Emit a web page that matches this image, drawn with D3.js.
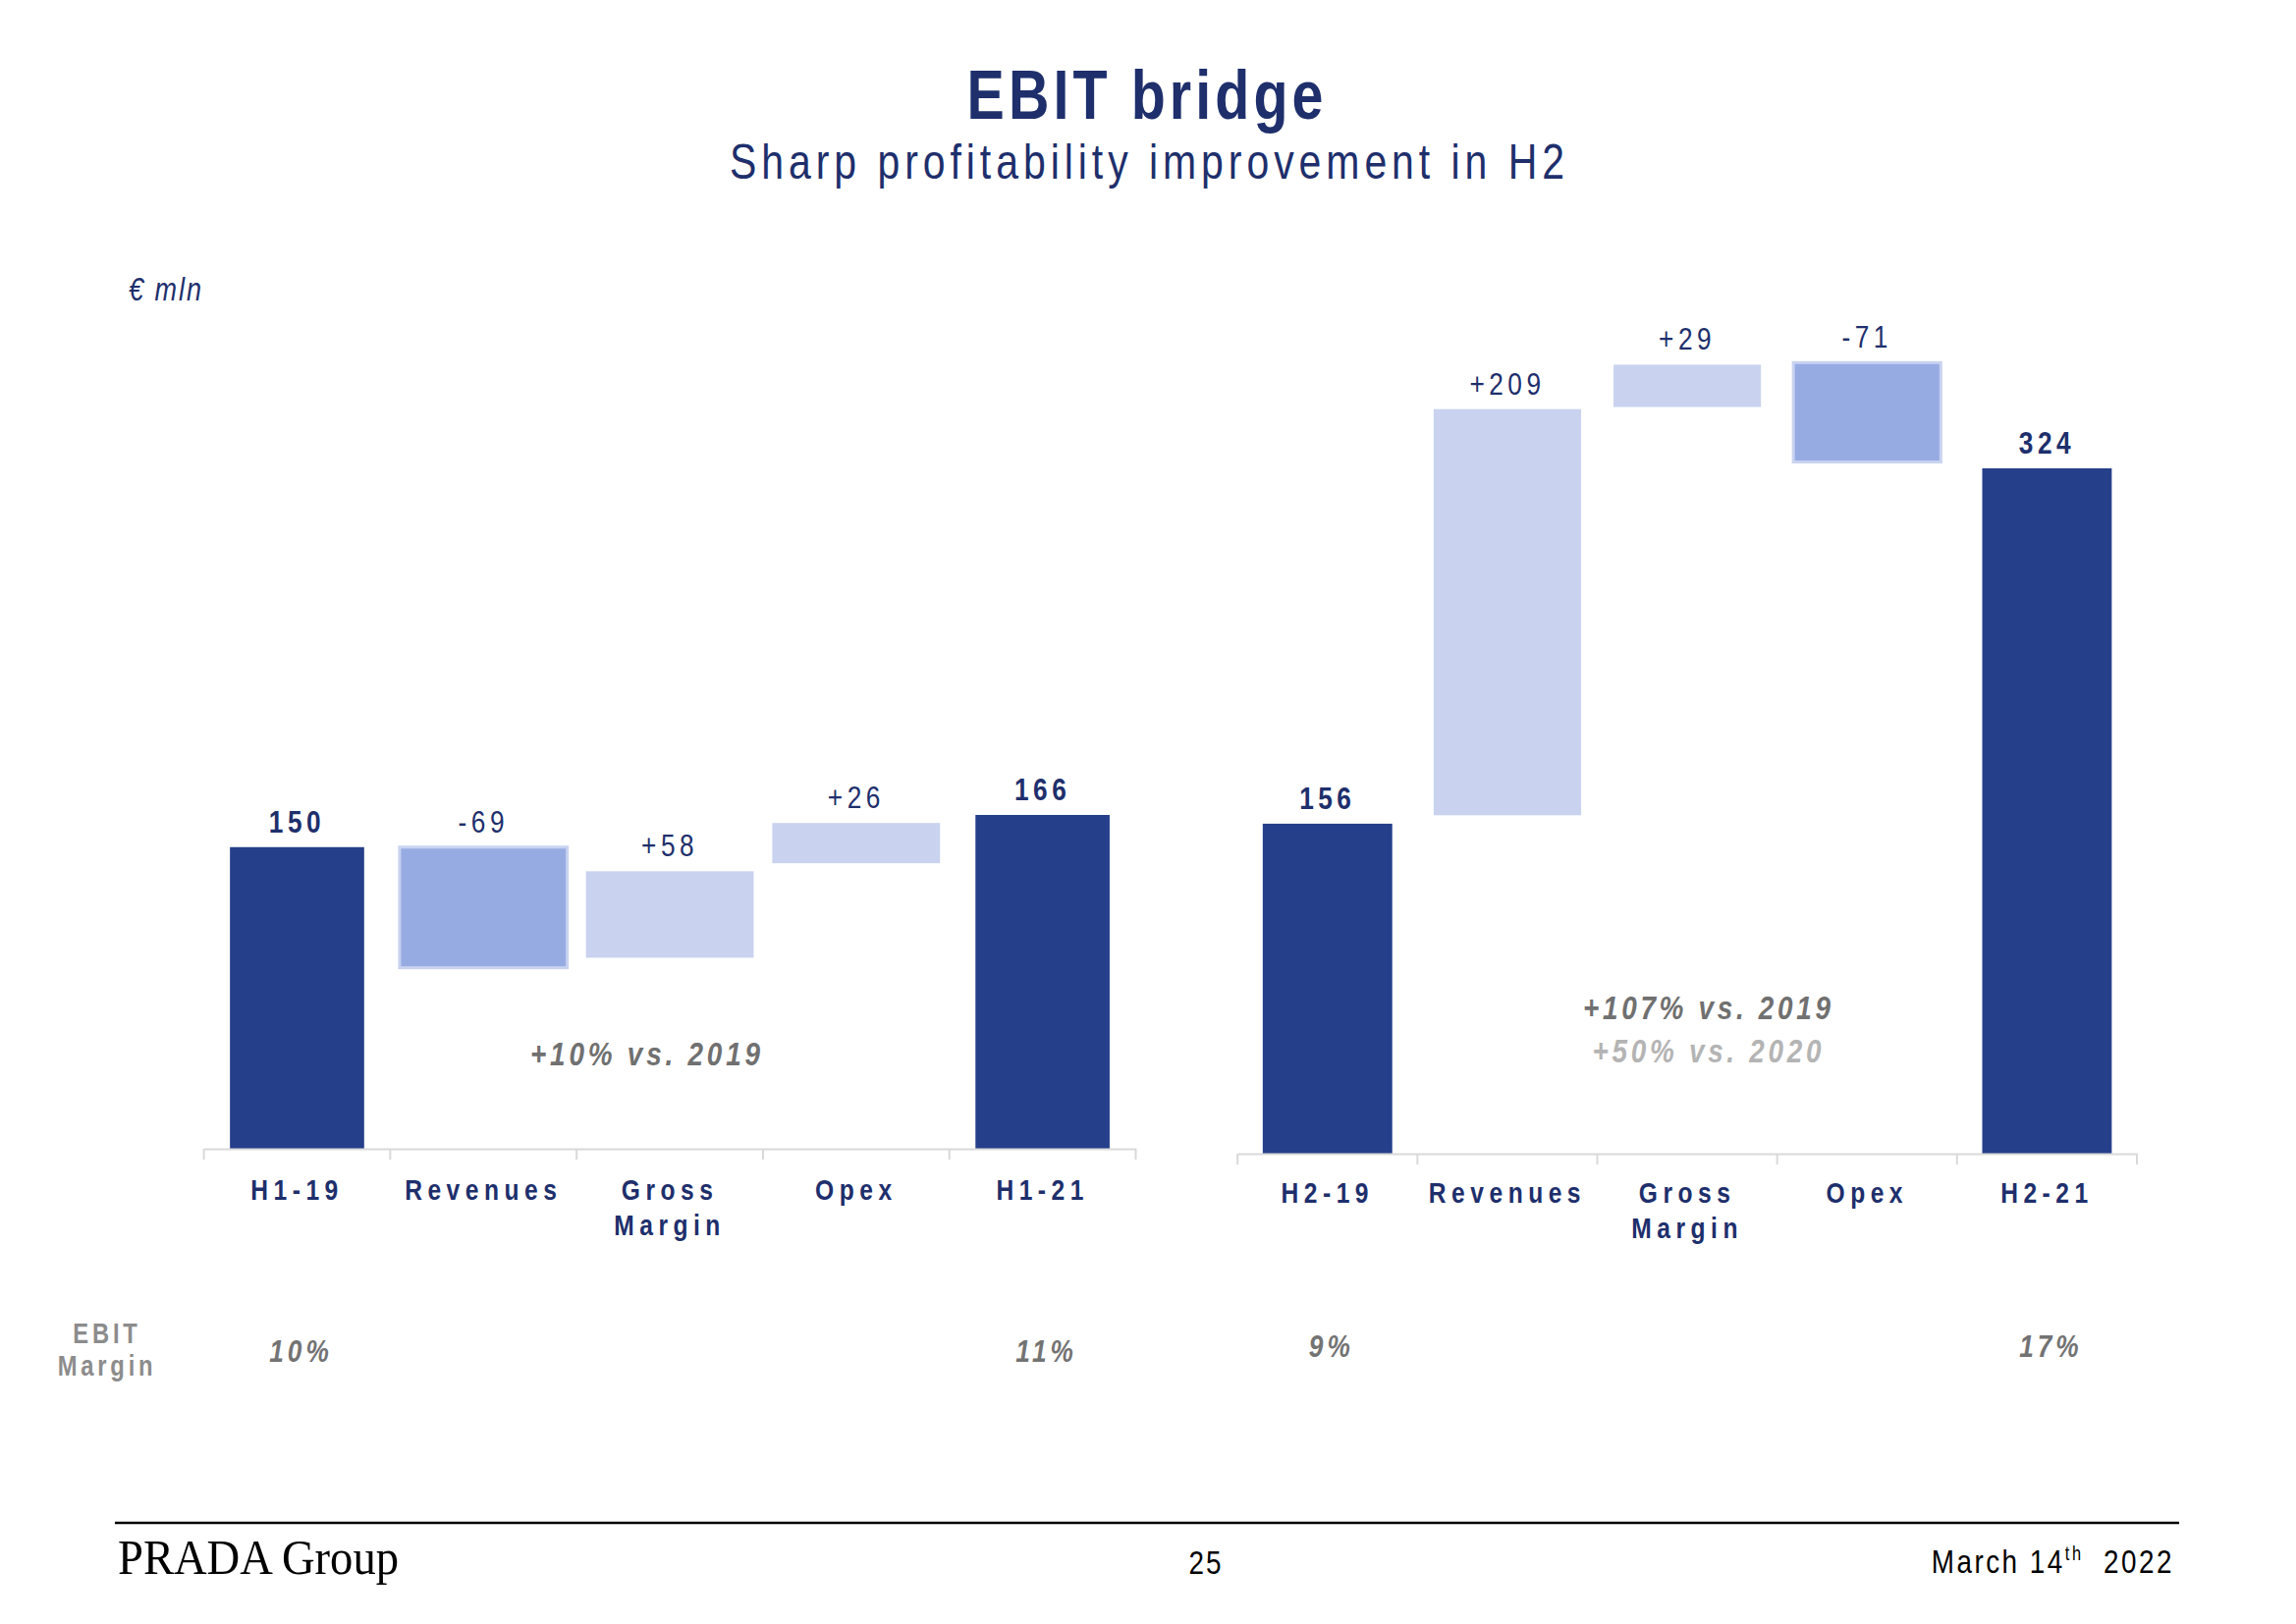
<!DOCTYPE html>
<html><head><meta charset="utf-8">
<script src="https://cdn.jsdelivr.net/npm/d3@7"></script>
<style>html,body{margin:0;padding:0;background:#fff;} svg{display:block;}</style>
</head><body>
<svg id="chart" width="2338" height="1654"></svg>
<script>
// ---------------- DATA ----------------
const leftCategories  = ["H1-19", "Revenues", "Gross Margin", "Opex", "H1-21"];
const leftKinds       = ["total", "neg", "pos", "pos", "total"];
const leftLabels      = ["150", "-69", "+58", "+26", "166"];
const leftBarLow      = [0, 90, 95, 142, 0];
const leftBarHigh     = [150, 150, 138, 162, 166];
const leftMargins     = ["10%", "", "", "", "11%"];

const rightCategories = ["H2-19", "Revenues", "Gross Margin", "Opex", "H2-21"];
const rightKinds      = ["total", "pos", "pos", "neg", "total"];
const rightLabels     = ["156", "+209", "+29", "-71", "324"];
const rightBarLow     = [0, 160, 353, 327, 0];
const rightBarHigh    = [156, 352, 373, 374, 324];
const rightMargins    = ["9%", "", "", "", "17%"];

const titleText    = "EBIT bridge";
const subtitleText = "Sharp profitability improvement in H2";
const unitText     = "€ mln";
const marginTitle  = ["EBIT", "Margin"];
const leftNotes    = ["+10% vs. 2019"];
const rightNotes   = ["+107% vs. 2019", "+50% vs. 2020"];

// ---------------- STYLE ----------------
const C = {
  bar: "#253F8A", text: "#1E2F6C", pos: "#C9D3F0", neg: "#97ABE3",
  negStroke: "#C9D3F0", axis: "#D9D9D9", grey: "#8C8C8C", pct: "#737373",
  note1: "#707070", note2: "#B4B4B4"
};

const cv = document.createElement("canvas").getContext("2d");
function mw(f) { cv.font = f; return cv.measureText("Revenues Gross Margin 0123456789").width; }
const narrowInstalled = Math.abs(mw("30px 'Liberation Sans Narrow', monospace") - mw("30px monospace")) > 1;
const NARROW = narrowInstalled && mw("30px 'Liberation Sans Narrow', monospace") < 0.9 * mw("30px 'Liberation Sans', monospace");
const FAM = NARROW ? "'Liberation Sans Narrow'" : "'Liberation Sans', Arial, sans-serif";
const SX = NARROW ? 1 : 0.82;

const svg = d3.select("#chart");
svg.append("rect").attr("width", 2338).attr("height", 1654).attr("fill", "#fff");

function label(parent, x, y, str, o) {
  const t = parent.append("text")
    .attr("transform", `translate(${x},${y}) scale(${SX},1)`)
    .attr("text-anchor", o.anchor || "middle")
    .style("font-family", FAM)
    .style("font-size", o.size + "px")
    .style("font-weight", o.bold ? "bold" : "normal")
    .style("font-style", o.italic ? "italic" : "normal")
    .style("letter-spacing", ((o.ls || 0) / SX) + "px")
    .attr("fill", o.color);
  if (Array.isArray(str)) {
    str.forEach((s, k) => t.append("tspan").attr("x", 0).attr("dy", k === 0 ? 0 : o.lineGap).text(s));
  } else {
    t.text(str);
  }
  if (o.width) t.attr("textLength", o.width / SX).attr("lengthAdjust", "spacing");
  return t;
}

// ---------------- TITLES ----------------
label(svg, 1166, 121, titleText, { size: 70, bold: true, color: C.text, width: 363 });
label(svg, 1168, 182, subtitleText, { size: 50, color: C.text, width: 850 });
label(svg, 131, 306, unitText, { size: 33, italic: true, color: C.text, ls: 2, anchor: "start" });

// ---------------- PANELS ----------------
function drawPanel(cfg) {
  const x = d3.scaleBand().domain(cfg.categories).range(cfg.xRange).padding(0);
  const y = d3.scaleLinear().domain([0, cfg.yMax]).range(cfg.yRange);
  const rows = cfg.categories.map((c, i) => ({
    cat: c, kind: cfg.kinds[i], label: cfg.labels[i],
    lo: cfg.low[i], hi: cfg.high[i], margin: cfg.margins[i]
  }));
  const g = svg.append("g");

  const bw = d => x.bandwidth() * (d.kind === "total" ? cfg.totalRatio : cfg.deltaRatio);
  g.selectAll("rect.bar").data(rows).join("rect")
    .attr("class", "bar")
    .attr("x", d => x(d.cat) + (x.bandwidth() - bw(d)) / 2)
    .attr("width", bw)
    .attr("y", d => y(d.hi))
    .attr("height", d => y(d.lo) - y(d.hi))
    .attr("fill", d => d.kind === "total" ? C.bar : d.kind === "pos" ? C.pos : C.neg)
    .attr("stroke", d => d.kind === "neg" ? C.negStroke : "none")
    .attr("stroke-width", d => d.kind === "neg" ? 3 : 0);

  rows.forEach(d => {
    label(g, x(d.cat) + x.bandwidth() / 2, y(d.hi) - 15, d.label,
      { size: 32, bold: d.kind === "total", color: C.text, ls: 4.5 });
  });

  // axis
  const ag = g.append("g").attr("transform", `translate(0,${y(0)})`)
    .call(d3.axisBottom(x).tickSize(0).tickSizeOuter(0).tickPadding(0));
  ag.select(".domain").attr("stroke", C.axis).attr("stroke-width", 2);
  const edges = d3.range(cfg.categories.length + 1).map(i => x.range()[0] + i * x.step());
  ag.selectAll("line.edge").data(edges).join("line").attr("class", "edge")
    .attr("x1", d => d).attr("x2", d => d).attr("y1", 0).attr("y2", 11)
    .attr("stroke", C.axis).attr("stroke-width", 2);
  ag.selectAll(".tick text").each(function (d) {
    const t = d3.select(this);
    t.text(null).attr("y", null).attr("dy", null)
      .attr("transform", `translate(0,${cfg.labelDy}) scale(${SX},1)`)
      .attr("text-anchor", "middle")
      .attr("fill", C.text)
      .style("font-family", FAM).style("font-size", "30px").style("font-weight", "bold")
      .style("letter-spacing", (5.5 / SX) + "px");
    d.split(" ").forEach((w, k) => {
      t.append("tspan").attr("x", 0).attr("dy", k === 0 ? 0 : 36.5).text(w);
    });
  });

  // EBIT margins
  rows.filter(d => d.margin).forEach(d => {
    label(g, x(d.cat) + x.bandwidth() / 2 + 4, cfg.marginY, d.margin,
      { size: 32, bold: true, italic: true, color: C.pct, ls: 4 });
  });
  return { x, y };
}

drawPanel({
  categories: leftCategories, kinds: leftKinds, labels: leftLabels,
  low: leftBarLow, high: leftBarHigh, margins: leftMargins,
  xRange: [207.6, 1156.5], yMax: 166, yRange: [1170, 830],
  totalRatio: 0.72, deltaRatio: 0.90, labelDy: 52, marginY: 1387
});
drawPanel({
  categories: rightCategories, kinds: rightKinds, labels: rightLabels,
  low: rightBarLow, high: rightBarHigh, margins: rightMargins,
  xRange: [1260.2, 2176], yMax: 324, yRange: [1175, 477],
  totalRatio: 0.72, deltaRatio: 0.82, labelDy: 50, marginY: 1382
});

// annotations
label(svg, 657, 1085, leftNotes[0], { size: 34, bold: true, italic: true, color: C.note1, width: 234 });
label(svg, 1738, 1038, rightNotes[0], { size: 34, bold: true, italic: true, color: C.note1, width: 252 });
label(svg, 1738, 1082, rightNotes[1], { size: 34, bold: true, italic: true, color: C.note2, width: 233 });

// EBIT Margin row title (two lines)
label(svg, 109, 1368, marginTitle[0], { size: 29, bold: true, color: C.grey, ls: 3.8 });
label(svg, 109, 1401, marginTitle[1], { size: 29, bold: true, color: C.grey, ls: 3.8 });

// ---------------- FOOTER ----------------
svg.append("line").attr("x1", 117).attr("x2", 2219).attr("y1", 1551).attr("y2", 1551)
  .attr("stroke", "#000").attr("stroke-width", 2.5);
svg.append("text").attr("x", 120).attr("y", 1603)
  .attr("textLength", 286).attr("lengthAdjust", "spacingAndGlyphs")
  .style("font-family", "'Liberation Serif', 'DejaVu Serif', serif").style("font-size", "50px")
  .attr("fill", "#000").text("PRADA Group");
label(svg, 1228, 1603, "25", { size: 34, color: "#000", ls: 2 });
const dt = svg.append("text")
  .attr("transform", `translate(2214,1602) scale(${SX},1)`)
  .attr("text-anchor", "end")
  .style("font-family", FAM).style("font-size", "34px")
  .style("letter-spacing", (2.5 / SX) + "px").attr("fill", "#000");
dt.append("tspan").text("March 14");
dt.append("tspan").attr("dy", -13).style("font-size", "20px").text("th");
dt.append("tspan").attr("dy", 13).text("\u00A0\u00A02022");
</script>
</body></html>
